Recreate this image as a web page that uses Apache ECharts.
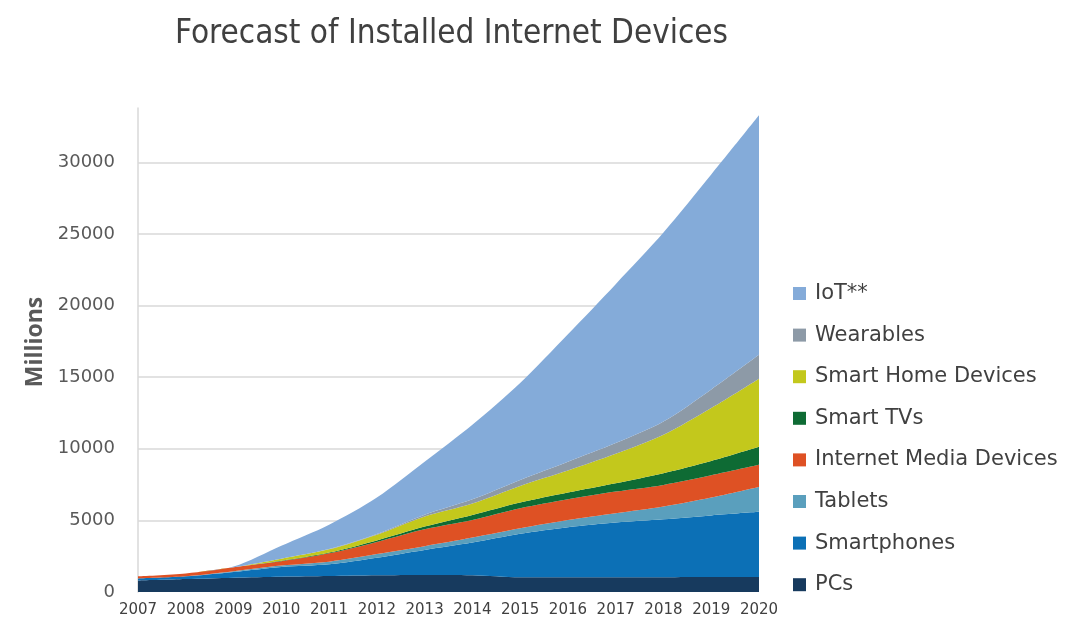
<!DOCTYPE html>
<html>
<head>
<meta charset="utf-8">
<script src="https://cdn.jsdelivr.net/npm/echarts@6/dist/echarts.min.js"></script>
<style>
html,body{margin:0;padding:0;background:#fff;}
#chart{width:1092px;height:629px;}
</style>
</head>
<body>
<div id="chart"></div>
<script>
const years = ['2007','2008','2009','2010','2011','2012','2013','2014','2015','2016','2017','2018','2019','2020'];
const pcs           = [800, 900, 1000, 1070, 1120, 1170, 1190, 1170, 1030, 1030, 1030, 1030, 1040, 1050];
const smartphones   = [150, 200, 400, 680, 820, 1230, 1750, 2280, 3030, 3490, 3820, 4050, 4310, 4550];
const tablets       = [0, 0, 50, 100, 180, 250, 260, 350, 390, 510, 650, 890, 1250, 1740];
const mediaDevices  = [150, 200, 280, 300, 580, 850, 1180, 1230, 1400, 1450, 1510, 1510, 1550, 1540];
const smartTVs      = [0, 0, 0, 30, 50, 100, 190, 350, 400, 470, 590, 820, 1000, 1260];
const smartHome     = [0, 0, 0, 150, 230, 400, 700, 800, 1160, 1530, 2050, 2680, 3700, 4760];
const wearables     = [0, 0, 0, 0, 20, 50, 130, 300, 420, 620, 750, 920, 1300, 1670];
const iot           = [0, 0, 50, 900, 1700, 2550, 3700, 5200, 6770, 8900, 11100, 13200, 15000, 16730];
const yTicks = [5000, 10000, 15000, 20000, 25000, 30000];

const seriesDefs = [
  ['PCs', pcs, '#173a5e'],
  ['Smartphones', smartphones, '#0c70b6'],
  ['Tablets', tablets, '#5a9fbd'],
  ['Internet Media Devices', mediaDevices, '#de5124'],
  ['Smart TVs', smartTVs, '#0e6b34'],
  ['Smart Home Devices', smartHome, '#c3c81c'],
  ['Wearables', wearables, '#8d9aa7'],
  ['IoT**', iot, '#84abd9']
];

const series = seriesDefs.map(([name, data, color]) => ({
  name, type: 'line', stack: 'total', data,
  smooth: 0.3, symbol: 'none', z: 3,
  lineStyle: { width: 0, color },
  itemStyle: { color },
  areaStyle: { color, opacity: 1 }
}));
series.push({
  name: 'grid', type: 'line', data: [], z: 1, silent: true,
  markLine: {
    silent: true, symbol: 'none', z: 1, label: { show: false },
    lineStyle: { color: '#d9d9d9', width: 1.5, type: 'solid' },
    data: yTicks.map(v => ({ yAxis: v }))
  }
});

const chart = echarts.init(document.getElementById('chart'), null, { renderer: 'canvas' });
chart.setOption({
  animation: false,
  backgroundColor: '#ffffff',
  title: {
    text: 'Forecast of Installed Internet Devices',
    left: 170, top: 13,
    textStyle: { fontFamily: '"Liberation Sans Narrow", "DejaVu Sans Condensed", "Liberation Sans", sans-serif', fontSize: 33, fontWeight: 'normal', color: '#404040' }
  },
  legend: {
    orient: 'vertical', left: 788, top: 278,
    data: seriesDefs.map(d => d[0]).reverse(),
    icon: 'rect', itemWidth: 13, itemHeight: 13, itemGap: 20.6,
    textStyle: { fontFamily: '"DejaVu Sans", sans-serif', fontSize: 21, color: '#404040', lineHeight: 21, padding: [0, 0, 0, 4] }
  },
  grid: { left: 138, right: 333, top: 108, bottom: 37, containLabel: false },
  xAxis: {
    type: 'category', data: years, boundaryGap: false,
    axisLine: { show: false }, axisTick: { show: false },
    axisLabel: { interval: 0, color: '#404040', fontSize: 15, margin: 11, fontFamily: '"DejaVu Sans", sans-serif' }
  },
  yAxis: {
    type: 'value', min: 0, max: 33800, interval: 5000,
    name: 'Millions', nameLocation: 'middle', nameGap: 90, nameRotate: 90,
    nameTextStyle: { fontFamily: '"Open Sans", sans-serif', fontSize: 23, fontWeight: 'bold', color: '#595959', padding: [0, 0, 0, 16] },
    axisLine: { show: true, lineStyle: { color: '#d9d9d9', width: 1.5 } },
    axisTick: { show: false },
    splitLine: { show: false },
    axisLabel: { color: '#595959', fontSize: 18, margin: 23, showMaxLabel: false, fontFamily: '"DejaVu Sans", sans-serif', formatter: v => String(v) }
  },
  series
});
</script>
</body>
</html>
